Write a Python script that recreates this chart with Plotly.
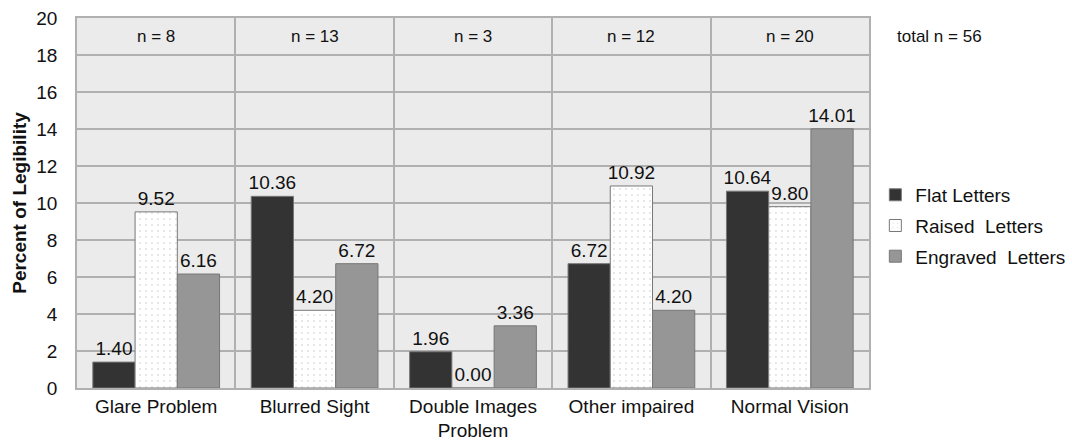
import plotly.graph_objects as go

categories = ["Glare Problem", "Blurred Sight", "Double Images<br>Problem", "Other impaired", "Normal Vision"]
n_labels = ["n = 8", "n = 13", "n = 3", "n = 12", "n = 20"]
flat = [1.40, 10.36, 1.96, 6.72, 10.64]
raised = [9.52, 4.20, 0.00, 10.92, 9.80]
engraved = [6.16, 6.72, 3.36, 4.20, 14.01]
total_label = "total n = 56"

FONT = "Liberation Sans, Arial, sans-serif"
LBL = 19

fig = go.Figure()
fig.add_trace(go.Bar(
    name="Flat Letters", x=categories, y=flat, legendgroup="a",
    marker=dict(color="#333333", line=dict(color="#777777", width=1)),
    text=[f"{v:.2f}" for v in flat], textposition="outside", constraintext="none",
    textfont=dict(size=LBL, color="#111111"), cliponaxis=False,
))
fig.add_trace(go.Bar(
    name="Raised  Letters", x=categories, y=raised, legendgroup="b",
    marker=dict(color="white", line=dict(color="#777777", width=1),
                pattern=dict(shape=".", fgcolor="#bdbdbd", bgcolor="white", size=6, solidity=0.08)),
    text=[f"{v:.2f}" for v in raised], textposition="outside", constraintext="none",
    textfont=dict(size=LBL, color="#111111"), cliponaxis=False,
))
fig.add_trace(go.Bar(
    name="Engraved  Letters", x=categories, y=engraved, legendgroup="c",
    marker=dict(color="#969696", line=dict(color="#777777", width=1)),
    text=[f"{v:.2f}" for v in engraved], textposition="outside", constraintext="none",
    textfont=dict(size=LBL, color="#111111"), cliponaxis=False,
))

for c, t in zip(categories, n_labels):
    fig.add_annotation(x=c, y=19, text=t, showarrow=False,
                       font=dict(size=17, color="#111111", family=FONT), yanchor="middle")

fig.add_annotation(x=1.033, xref="paper", y=19, yref="y", text=total_label, showarrow=False,
                   xanchor="left", font=dict(size=17, color="#111111", family=FONT))

fig.update_layout(
    width=1072, height=446,
    margin=dict(l=77, r=203, t=18, b=58, autoexpand=False),
    paper_bgcolor="white", plot_bgcolor="#ebebeb",
    font=dict(family=FONT, color="#111111"),
    barmode="group", bargap=0.2, bargroupgap=0,
    legend=dict(x=1.008, y=0.438, xanchor="left", yanchor="middle",
                font=dict(size=19, color="#111111"), bgcolor="rgba(0,0,0,0)",
                itemwidth=30, tracegroupgap=3),
    xaxis=dict(tickson="boundaries", showgrid=True, gridcolor="#b0b0b0", gridwidth=1.5,
               tickfont=dict(size=19), ticks="", showline=True, linecolor="#b0b0b0", linewidth=1.5,
               mirror=True, automargin=False, ticklabelstandoff=0),
    yaxis=dict(range=[0, 20], dtick=2, showgrid=True, gridcolor="#b0b0b0", gridwidth=1.5,
               tickfont=dict(size=19), ticks="", showline=True, linecolor="#b0b0b0", linewidth=1.5,
               mirror=True, zeroline=False, automargin=False, ticklabelstandoff=14,
               title=dict(text="<b>Percent of Legibility</b>", font=dict(size=19), standoff=5)),
)

fig.write_html("out.html", config={"displayModeBar": False},
               post_script="document.body.style.margin='0';document.body.style.overflow='hidden';")
